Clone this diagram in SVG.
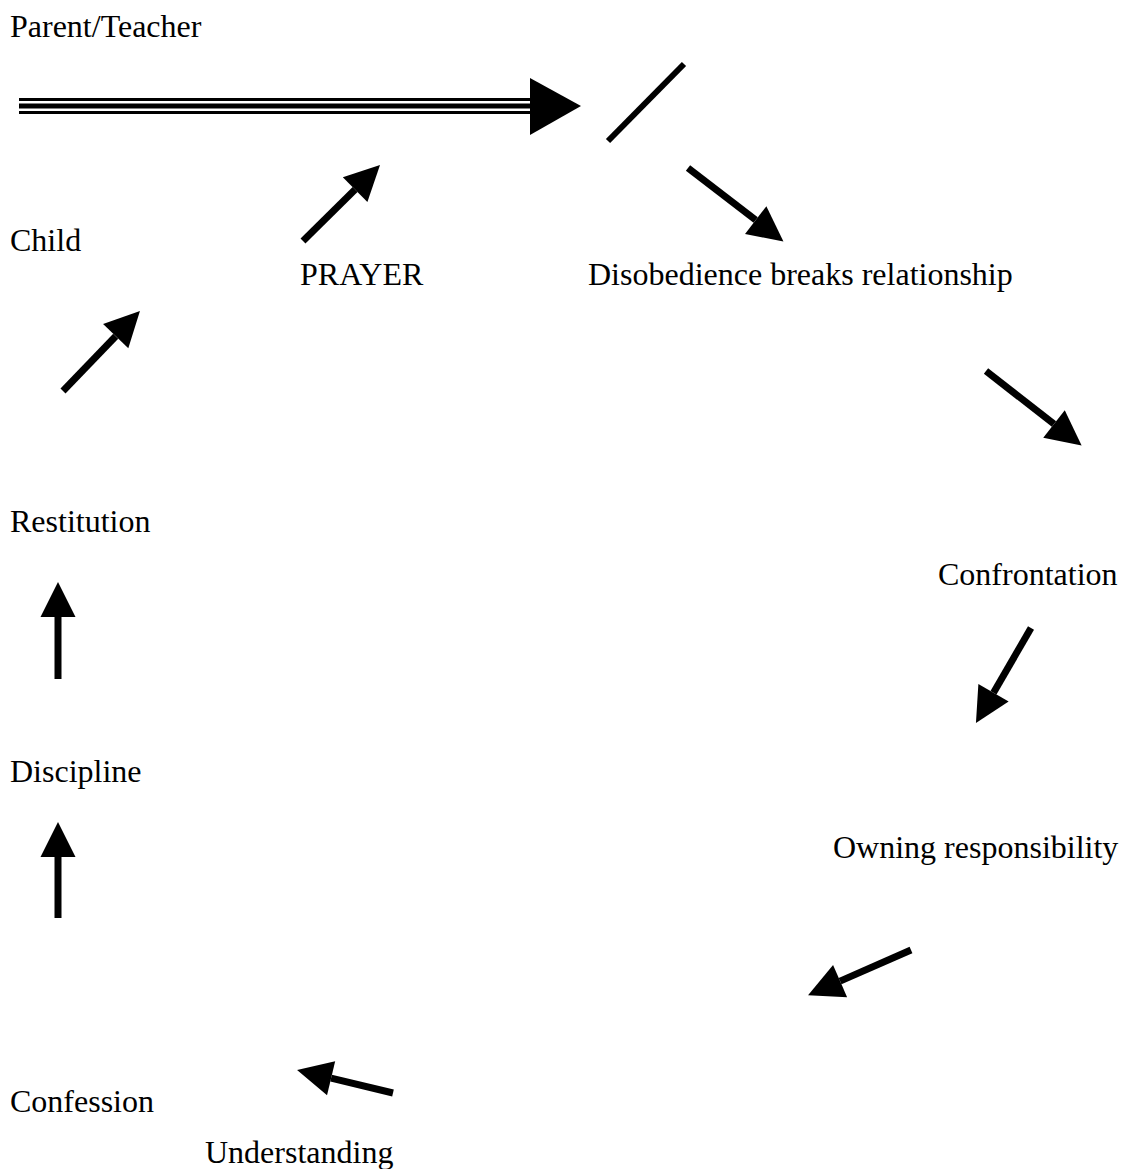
<svg xmlns="http://www.w3.org/2000/svg" width="1124" height="1169" viewBox="0 0 1124 1169">
<style>
text{font-family:"Liberation Serif","Times New Roman",serif;font-size:32px;fill:#000}
.a{stroke:#000;stroke-width:7;fill:none;marker-end:url(#h)}
</style>
<defs>
<marker id="h" markerUnits="userSpaceOnUse" markerWidth="36" markerHeight="36" refX="0" refY="17.5" orient="auto" overflow="visible">
<path d="M0,0 L35,17.5 L0,35 Z" fill="#000"/>
</marker>
</defs>
<rect width="1124" height="1169" fill="#fff"/>
<g id="n-parent"><text x="10" y="37">Parent/Teacher</text></g>
<g id="n-child"><text x="10" y="251">Child</text></g>
<g id="n-prayer"><text x="300" y="285">PRAYER</text></g>
<g id="n-disobedience"><text x="588" y="285">Disobedience breaks relationship</text></g>
<g id="n-restitution"><text x="10" y="532">Restitution</text></g>
<g id="n-confrontation"><text x="938" y="585">Confrontation</text></g>
<g id="n-discipline"><text x="10" y="782">Discipline</text></g>
<g id="n-owning"><text x="833" y="858">Owning responsibility</text></g>
<g id="n-confession"><text x="10" y="1112">Confession</text></g>
<g id="n-understanding"><text x="205" y="1163">Understanding</text></g>
<g id="connectors">
<line x1="19" y1="99.5" x2="532" y2="99.5" stroke="#000" stroke-width="3"/>
<line x1="19" y1="106" x2="532" y2="106" stroke="#000" stroke-width="5"/>
<line x1="19" y1="112.5" x2="532" y2="112.5" stroke="#000" stroke-width="3"/>
<polygon points="530,78 581,106 530,135" fill="#000"/>
<line x1="608" y1="141" x2="684" y2="64" stroke="#000" stroke-width="6"/>
<line class="a" x1="303" y1="241" x2="355.1" y2="189.6"/>
<line class="a" x1="688" y1="168" x2="755.7" y2="220.1"/>
<line class="a" x1="986" y1="371" x2="1054" y2="424"/>
<line class="a" x1="1031" y1="628" x2="993.5" y2="692.7"/>
<line class="a" x1="911" y1="950" x2="840.1" y2="981.1"/>
<line class="a" x1="393" y1="1093" x2="331.1" y2="1078.2"/>
<line class="a" x1="63" y1="391" x2="115.7" y2="336.2"/>
<line class="a" x1="58" y1="679" x2="58" y2="617"/>
<line class="a" x1="58" y1="918" x2="58" y2="857"/>
</g>
</svg>
